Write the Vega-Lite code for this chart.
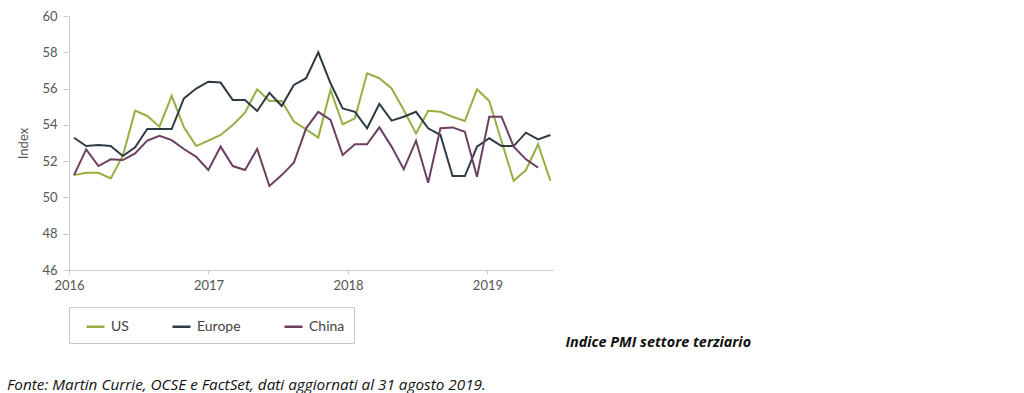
{
  "$schema": "https://vega.github.io/schema/vega-lite/v6.json",
  "width": 484,
  "height": 254,
  "autosize": {"type": "none"},
  "padding": {"left": 69, "top": 16, "right": 471, "bottom": 123},
  "background": "white",
  "config": {"view": {"stroke": null}},
  "title": {
    "text": "Fonte: Martin Currie, OCSE e FactSet, dati aggiornati al 31 agosto 2019.",
    "orient": "bottom",
    "anchor": "start",
    "frame": "group",
    "dx": -62,
    "offset": 30,
    "font": "Open Sans",
    "fontSize": 15.3,
    "fontStyle": "italic",
    "fontWeight": "normal",
    "color": "#111111"
  },
  "datasets": {
    "pmi": [
      {"t": 2016.036, "s": "US", "v": 51.23},
      {"t": 2016.123, "s": "US", "v": 51.36},
      {"t": 2016.211, "s": "US", "v": 51.36},
      {"t": 2016.299, "s": "US", "v": 51.05},
      {"t": 2016.386, "s": "US", "v": 52.3},
      {"t": 2016.474, "s": "US", "v": 54.78},
      {"t": 2016.561, "s": "US", "v": 54.49},
      {"t": 2016.649, "s": "US", "v": 53.9},
      {"t": 2016.736, "s": "US", "v": 55.6},
      {"t": 2016.824, "s": "US", "v": 53.86},
      {"t": 2016.912, "s": "US", "v": 52.83},
      {"t": 2016.999, "s": "US", "v": 53.13},
      {"t": 2017.087, "s": "US", "v": 53.44},
      {"t": 2017.174, "s": "US", "v": 53.99},
      {"t": 2017.262, "s": "US", "v": 54.67},
      {"t": 2017.349, "s": "US", "v": 55.96},
      {"t": 2017.437, "s": "US", "v": 55.31},
      {"t": 2017.525, "s": "US", "v": 55.31},
      {"t": 2017.612, "s": "US", "v": 54.18},
      {"t": 2017.700, "s": "US", "v": 53.75},
      {"t": 2017.787, "s": "US", "v": 53.3},
      {"t": 2017.875, "s": "US", "v": 55.92},
      {"t": 2017.962, "s": "US", "v": 54.03},
      {"t": 2018.050, "s": "US", "v": 54.36},
      {"t": 2018.137, "s": "US", "v": 56.84},
      {"t": 2018.225, "s": "US", "v": 56.57},
      {"t": 2018.313, "s": "US", "v": 56.01},
      {"t": 2018.400, "s": "US", "v": 54.82},
      {"t": 2018.488, "s": "US", "v": 53.53},
      {"t": 2018.575, "s": "US", "v": 54.78},
      {"t": 2018.663, "s": "US", "v": 54.72},
      {"t": 2018.750, "s": "US", "v": 54.45},
      {"t": 2018.838, "s": "US", "v": 54.21},
      {"t": 2018.925, "s": "US", "v": 55.96},
      {"t": 2019.013, "s": "US", "v": 55.31},
      {"t": 2019.101, "s": "US", "v": 53.1},
      {"t": 2019.188, "s": "US", "v": 50.92},
      {"t": 2019.276, "s": "US", "v": 51.51},
      {"t": 2019.363, "s": "US", "v": 52.93},
      {"t": 2019.451, "s": "US", "v": 50.92},
      {"t": 2016.036, "s": "Europe", "v": 53.29},
      {"t": 2016.123, "s": "Europe", "v": 52.83},
      {"t": 2016.211, "s": "Europe", "v": 52.89},
      {"t": 2016.299, "s": "Europe", "v": 52.83},
      {"t": 2016.386, "s": "Europe", "v": 52.28},
      {"t": 2016.474, "s": "Europe", "v": 52.76},
      {"t": 2016.561, "s": "Europe", "v": 53.77},
      {"t": 2016.649, "s": "Europe", "v": 53.77},
      {"t": 2016.736, "s": "Europe", "v": 53.77},
      {"t": 2016.824, "s": "Europe", "v": 55.46},
      {"t": 2016.912, "s": "Europe", "v": 56.0},
      {"t": 2016.999, "s": "Europe", "v": 56.38},
      {"t": 2017.087, "s": "Europe", "v": 56.33},
      {"t": 2017.174, "s": "Europe", "v": 55.37},
      {"t": 2017.262, "s": "Europe", "v": 55.37},
      {"t": 2017.349, "s": "Europe", "v": 54.76},
      {"t": 2017.437, "s": "Europe", "v": 55.77},
      {"t": 2017.525, "s": "Europe", "v": 55.04},
      {"t": 2017.612, "s": "Europe", "v": 56.2},
      {"t": 2017.700, "s": "Europe", "v": 56.57},
      {"t": 2017.787, "s": "Europe", "v": 58.0},
      {"t": 2017.875, "s": "Europe", "v": 56.29},
      {"t": 2017.962, "s": "Europe", "v": 54.91},
      {"t": 2018.050, "s": "Europe", "v": 54.72},
      {"t": 2018.137, "s": "Europe", "v": 53.81},
      {"t": 2018.225, "s": "Europe", "v": 55.15},
      {"t": 2018.313, "s": "Europe", "v": 54.23},
      {"t": 2018.400, "s": "Europe", "v": 54.45},
      {"t": 2018.488, "s": "Europe", "v": 54.72},
      {"t": 2018.575, "s": "Europe", "v": 53.81},
      {"t": 2018.663, "s": "Europe", "v": 53.44},
      {"t": 2018.750, "s": "Europe", "v": 51.18},
      {"t": 2018.838, "s": "Europe", "v": 51.18},
      {"t": 2018.925, "s": "Europe", "v": 52.8},
      {"t": 2019.013, "s": "Europe", "v": 53.26},
      {"t": 2019.101, "s": "Europe", "v": 52.83},
      {"t": 2019.188, "s": "Europe", "v": 52.83},
      {"t": 2019.276, "s": "Europe", "v": 53.57},
      {"t": 2019.363, "s": "Europe", "v": 53.2},
      {"t": 2019.451, "s": "Europe", "v": 53.44},
      {"t": 2016.036, "s": "China", "v": 51.23},
      {"t": 2016.123, "s": "China", "v": 52.65},
      {"t": 2016.211, "s": "China", "v": 51.73},
      {"t": 2016.299, "s": "China", "v": 52.1},
      {"t": 2016.386, "s": "China", "v": 52.06},
      {"t": 2016.474, "s": "China", "v": 52.43},
      {"t": 2016.561, "s": "China", "v": 53.13},
      {"t": 2016.649, "s": "China", "v": 53.4},
      {"t": 2016.736, "s": "China", "v": 53.16},
      {"t": 2016.824, "s": "China", "v": 52.67},
      {"t": 2016.912, "s": "China", "v": 52.24},
      {"t": 2016.999, "s": "China", "v": 51.51},
      {"t": 2017.087, "s": "China", "v": 52.8},
      {"t": 2017.174, "s": "China", "v": 51.73},
      {"t": 2017.262, "s": "China", "v": 51.51},
      {"t": 2017.349, "s": "China", "v": 52.67},
      {"t": 2017.437, "s": "China", "v": 50.63},
      {"t": 2017.525, "s": "China", "v": 51.23},
      {"t": 2017.612, "s": "China", "v": 51.91},
      {"t": 2017.700, "s": "China", "v": 53.81},
      {"t": 2017.787, "s": "China", "v": 54.72},
      {"t": 2017.875, "s": "China", "v": 54.27},
      {"t": 2017.962, "s": "China", "v": 52.34},
      {"t": 2018.050, "s": "China", "v": 52.93},
      {"t": 2018.137, "s": "China", "v": 52.93},
      {"t": 2018.225, "s": "China", "v": 53.86},
      {"t": 2018.313, "s": "China", "v": 52.8},
      {"t": 2018.400, "s": "China", "v": 51.55},
      {"t": 2018.488, "s": "China", "v": 53.13},
      {"t": 2018.575, "s": "China", "v": 50.81},
      {"t": 2018.663, "s": "China", "v": 53.81},
      {"t": 2018.750, "s": "China", "v": 53.86},
      {"t": 2018.838, "s": "China", "v": 53.62},
      {"t": 2018.925, "s": "China", "v": 51.14},
      {"t": 2019.013, "s": "China", "v": 54.45},
      {"t": 2019.101, "s": "China", "v": 54.45},
      {"t": 2019.188, "s": "China", "v": 52.8},
      {"t": 2019.276, "s": "China", "v": 52.1},
      {"t": 2019.363, "s": "China", "v": 51.64}
    ]
  },
  "data": {"name": "pmi"},
  "mark": {"type": "line", "strokeWidth": 2, "strokeJoin": "miter"},
  "encoding": {
    "x": {
      "field": "t",
      "type": "quantitative",
      "scale": {"domain": [2016, 2019.47], "nice": false, "zero": false},
      "axis": {
        "values": [2016, 2017, 2018, 2019],
        "format": "d",
        "grid": false,
        "labelFlush": false,
        "domainColor": "#cccccc",
        "tickColor": "#cccccc",
        "tickSize": 4,
        "labelPadding": 5,
        "labelFont": "Lato",
        "labelFontSize": 13,
        "labelColor": "#555555",
        "title": "Indice PMI settore terziario",
        "titleX": 496,
        "titleY": 72,
        "titleAlign": "left",
        "titleBaseline": "middle",
        "titleFont": "Open Sans",
        "titleFontSize": 14.4,
        "titleFontStyle": "italic",
        "titleFontWeight": "bold",
        "titleColor": "#111111"
      }
    },
    "y": {
      "field": "v",
      "type": "quantitative",
      "scale": {"domain": [46, 60], "nice": false, "zero": false},
      "axis": {
        "values": [46, 48, 50, 52, 54, 56, 58, 60],
        "grid": false,
        "domainColor": "#cccccc",
        "tickColor": "#cccccc",
        "tickSize": 6,
        "labelPadding": 6,
        "labelFont": "Lato",
        "labelFontSize": 13,
        "labelColor": "#555555",
        "title": "Index",
        "titleFont": "Lato",
        "titleFontSize": 13,
        "titleFontWeight": "normal",
        "titleColor": "#555555",
        "titlePadding": 11
      }
    },
    "color": {
      "field": "s",
      "type": "nominal",
      "scale": {"domain": ["US", "Europe", "China"], "range": ["#95b042", "#2e3b45", "#6d3f60"]},
      "legend": {
        "title": null,
        "orient": "none",
        "legendX": 0,
        "legendY": 291,
        "direction": "horizontal",
        "strokeColor": "#c8c8c8",
        "padding": 9,
        "symbolType": "stroke",
        "symbolSize": 324,
        "symbolStrokeWidth": 2.5,
        "labelFont": "Lato",
        "labelFontSize": 14,
        "labelColor": "#444444",
        "labelOffset": 5,
        "columnPadding": 35,
        "symbolOffset": 7,
        "labelExpr": "datum.label == 'China' ? 'China\u00a0\u00a0\u00a0\u00a0\u00a0\u00a0\u00a0\u00a0' : datum.label"
      }
    }
  }
}
